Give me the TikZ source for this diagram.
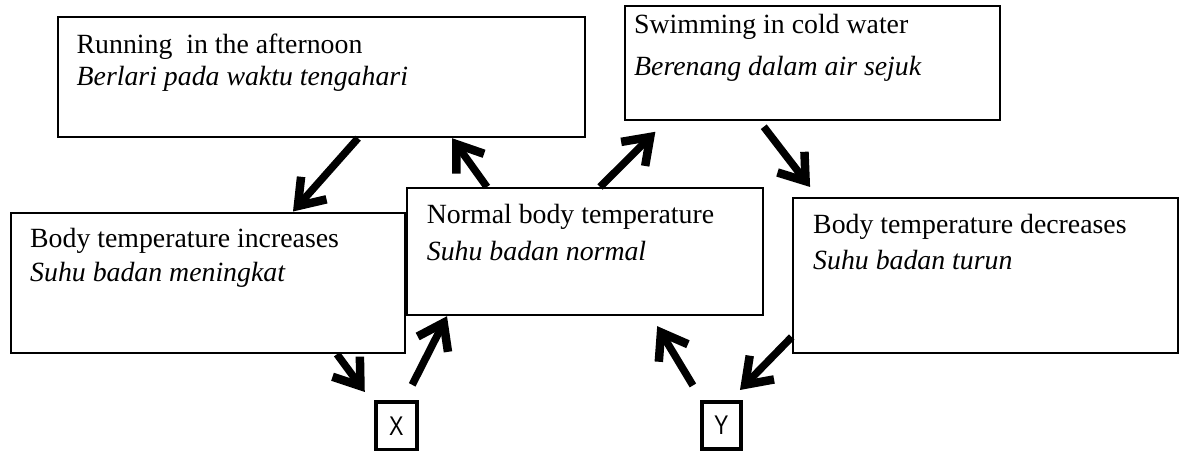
\documentclass[tikz,border=0pt]{standalone}
\usepackage{fontspec}
\setmainfont{Liberation Serif}
\setsansfont{Liberation Sans}
\usetikzlibrary{arrows.meta}
\begin{document}
\begin{tikzpicture}[x=1pt,y=-1pt,
  box/.style={draw, line width=2.2pt, anchor=north west, inner sep=0pt, rectangle},
  tbox/.style={draw, line width=3.5pt, anchor=north west, inner sep=0pt, rectangle,
    font=\sffamily\fontsize{27pt}{30pt}\selectfont},
  txt/.style={anchor=base west, inner sep=0pt, font=\fontsize{27.8pt}{33pt}\selectfont},
  itxt/.style={anchor=base west, inner sep=0pt, font=\fontsize{27.8pt}{33pt}\selectfont\itshape},
  arr/.style={line width=7.5pt, -{Straight Barb[length=24pt,width=34pt,line width=8.5pt]}}
]
\useasboundingbox (0,0) rectangle (1181,450);

% boxes
\node[box, minimum width=527pt, minimum height=120pt] (A) at (56.6,16) {};
\node[box, minimum width=375pt, minimum height=114pt] (B) at (624,5) {};
\node[box, minimum width=393.5pt, minimum height=140.5pt] (inc) at (10,211.5) {};
\node[box, minimum width=355.7pt, minimum height=127pt] (normal) at (406,187) {};
\node[box, minimum width=385pt, minimum height=155pt] (dec) at (791.7,196.5) {};
\node[tbox, minimum width=41pt, minimum height=48pt] (X) at (374,400) {\scalebox{0.8}[1]{X}};
\node[tbox, minimum width=39.3pt, minimum height=47.3pt] (Y) at (700,400) {\scalebox{0.8}[1]{Y}};

% texts
\node[txt] (a1) at (76.5,53) {Running~ in the afternoon};
\node[itxt] (a2) at (76.5,85) {Berlari pada waktu tengahari};
\node[txt] (b1) at (634,33) {Swimming in cold water};
\node[itxt] (b2) at (634,75) {Berenang dalam air sejuk};
\node[txt] (i1) at (30,247.7) {Body temperature increases};
\node[itxt] (i2) at (30,281.7) {Suhu badan meningkat};
\node[txt] (n1) at (426.7,223.3) {Normal body temperature};
\node[itxt] (n2) at (426.7,260) {Suhu badan normal};
\node[txt] (d1) at (813,233.3) {Body temperature decreases};
\node[itxt] (d2) at (813,269.3) {Suhu badan turun};

% arrows
\draw[arr] (A.south -| 358,0) -- (inc.north -| 293,0);
\draw[arr] (normal.north -| 487,0) -- (A.south -| 452,0);
\draw[arr, shorten >=15pt] (normal.north -| 600,0) -- (B.south -| 666,0);
\draw[arr, shorten <=7pt, shorten >=12pt] (B.south -| 759.5,0) -- (dec.north -| 817.4,0);
\draw[arr, shorten >=10pt] (inc.south -| 337,0) -- (X.north -| 370.7,0);
\draw[arr, shorten <=17pt] (X.north -| 404.5,0) -- (normal.south -| 447,0);
\draw[arr, shorten <=17pt, shorten >=11.6pt] (Y.north -| 701.7,0) -- (normal.south -| 651.2,0);
\draw[arr, shorten >=14pt] (dec.west |- 0,337) -- (Y.north -| 730.2,0);
\end{tikzpicture}
\end{document}
